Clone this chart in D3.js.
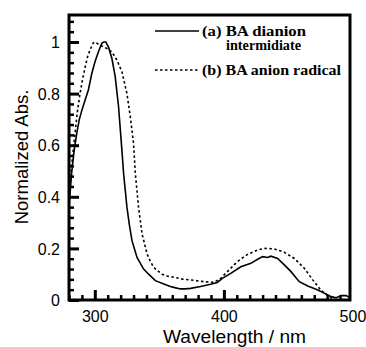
<!DOCTYPE html>
<html><head><meta charset="utf-8">
<script src="https://cdn.jsdelivr.net/npm/d3@7"></script>
<style>
html,body{margin:0;padding:0;background:#fff;}
svg{display:block;}
</style></head>
<body>
<script>
// Series (a) BA dianion intermidiate: [wavelength nm, normalized abs]
const seriesA = [[280,0.36],[282,0.49],[284,0.58],[286,0.646],[288,0.70],[290,0.736],[292.5,0.775],[295,0.814],[297.7,0.879],[300.2,0.924],[302.8,0.962],[305.4,0.995],[307,1.0],[308.5,1.0],[310.6,0.98],[313.2,0.937],[315.8,0.866],[318.4,0.749],[321,0.58],[322.3,0.49],[324.9,0.359],[326.8,0.29],[328.8,0.23],[332.7,0.165],[337.8,0.12],[341.7,0.10],[346.9,0.075],[353.4,0.062],[358.6,0.052],[361.2,0.049],[366.4,0.043],[370,0.043],[374.2,0.045],[381.9,0.052],[389.7,0.061],[394.9,0.068],[398.8,0.084],[405.3,0.103],[413.1,0.129],[420.9,0.142],[426.1,0.158],[430,0.168],[433.9,0.165],[436.4,0.17],[441.6,0.161],[446.8,0.136],[452,0.11],[458.4,0.071],[465,0.054],[472.8,0.039],[477.9,0.026],[483.1,0.013],[487,0.009],[490.9,0.017],[494.8,0.017],[497.7,0.009]];
// Series (b) BA anion radical
const seriesB = [[280,0.40],[282,0.52],[284.7,0.647],[286.5,0.73],[288.6,0.802],[290.5,0.855],[292.5,0.903],[294.5,0.945],[296.3,0.969],[298.7,0.996],[300,1.0],[304,0.988],[309.3,0.975],[313.2,0.962],[317.1,0.93],[321,0.885],[324.9,0.80],[327.5,0.71],[330,0.607],[331.4,0.49],[333.9,0.359],[336.6,0.256],[340.5,0.178],[343,0.15],[345.6,0.127],[348.2,0.115],[352.1,0.10],[356,0.093],[361.2,0.088],[367.7,0.081],[374.2,0.078],[384.5,0.071],[392.3,0.068],[397.5,0.084],[402.7,0.11],[410.5,0.149],[418.3,0.177],[426.1,0.194],[431.2,0.20],[439,0.198],[446.8,0.185],[454.6,0.161],[462.3,0.123],[468.8,0.078],[474,0.045],[477.9,0.026],[483,0.009],[486,0.003]];
const xMajorTicks = [300, 400, 500];
const yMajorTicks = [0, 0.2, 0.4, 0.6, 0.8, 1];
const yTickLabels = ["0", "0.2", "0.4", "0.6", "0.8", "1"];
const legendLabels = ["(a) BA dianion", "intermidiate", "(b) BA anion radical"];
const xTitle = "Wavelength / nm";
const yTitle = "Normalized Abs.";

const W = 366, H = 347;
const L = 69, R = 350, T = 15, B = 300;
const svg = d3.select("body").append("svg").attr("width", W).attr("height", H);

const x = d3.scaleLinear().domain([280, 497.7]).range([L, R]);
const y = d3.scaleLinear().domain([0, 1.1]).range([B, B - 1.1 * 258]);

const xMinor = d3.range(280, 498, 10).filter(v => !xMajorTicks.includes(v));
const yMinor = d3.range(0, 1.09, 0.04).map(v => +v.toFixed(2)).filter(v => !yMajorTicks.some(m => Math.abs(m - v) < 1e-6));

const font = "'Liberation Sans', Arial, sans-serif";

// minor ticks
svg.append("g").attr("transform", `translate(0,${B})`)
  .call(d3.axisBottom(x).tickValues(xMinor).tickSize(-5).tickFormat(""))
  .call(g => { g.select(".domain").remove(); g.selectAll("line").attr("stroke","#000").attr("stroke-width",2.5); });
svg.append("g").attr("transform", `translate(${L},0)`)
  .call(d3.axisLeft(y).tickValues(yMinor).tickSize(-5).tickFormat(""))
  .call(g => { g.select(".domain").remove(); g.selectAll("line").attr("stroke","#000").attr("stroke-width",2.5); });

// major ticks with labels
svg.append("g").attr("transform", `translate(0,${B})`)
  .call(d3.axisBottom(x).tickValues(xMajorTicks.filter(v => v <= 497.7)).tickSize(-10).tickPadding(0).tickFormat(d3.format("d")))
  .call(g => { g.select(".domain").remove(); g.selectAll("line").attr("stroke","#000").attr("stroke-width",3);
    g.selectAll("text").attr("y", 22).attr("dy", 0).attr("font-family", font).attr("font-size", 16).attr("fill","#000"); });
// 500 label sits just outside the frame
svg.append("text").attr("x", x(500)).attr("y", B + 22).attr("text-anchor","middle")
  .attr("font-family", font).attr("font-size", 16).text("500");

svg.append("g").attr("transform", `translate(${L},0)`)
  .call(d3.axisLeft(y).tickValues(yMajorTicks).tickSize(-10).tickFormat((d,i) => yTickLabels[i]))
  .call(g => { g.select(".domain").remove(); g.selectAll("line").attr("stroke","#000").attr("stroke-width",3);
    g.selectAll("text").attr("x", -9).attr("dy", "0.35em").attr("font-family", font).attr("font-size", 16).attr("fill","#000"); });

// frame
svg.append("rect").attr("x", L).attr("y", T).attr("width", R - L).attr("height", B - T)
  .attr("fill","none").attr("stroke","#000").attr("stroke-width",3);

// lines
const line = d3.line().x(d => x(d[0])).y(d => y(d[1]));
svg.append("path").datum(seriesB).attr("d", line).attr("fill","none")
  .attr("stroke","#000").attr("stroke-width",1.6).attr("stroke-dasharray","2.5,2.5");
svg.append("path").datum(seriesA).attr("d", line).attr("fill","none")
  .attr("stroke","#000").attr("stroke-width",1.6);

// legend
const lf = "'Liberation Serif', 'Times New Roman', serif";
svg.append("line").attr("x1",155).attr("x2",199).attr("y1",31).attr("y2",31).attr("stroke","#000").attr("stroke-width",1.6);
svg.append("line").attr("x1",155).attr("x2",199).attr("y1",70).attr("y2",70).attr("stroke","#000").attr("stroke-width",1.6).attr("stroke-dasharray","2.5,2.5");
const leg = [[202,35.5,104,14],[226,49.5,75,14],[202,75,139,14]];
leg.forEach((p,i) => {
  svg.append("text").attr("x",p[0]).attr("y",p[1]).attr("font-family",lf).attr("font-weight","bold")
    .attr("font-size",p[3]).attr("textLength",p[2]).attr("lengthAdjust","spacingAndGlyphs").text(legendLabels[i]);
});

// titles
svg.append("text").attr("x", 163).attr("y", 342.5)
  .attr("font-family", font).attr("font-size", 17.5).attr("textLength",143).attr("lengthAdjust","spacingAndGlyphs").text(xTitle);
svg.append("text").attr("transform", `translate(28,157) rotate(-90)`).attr("text-anchor","middle")
  .attr("font-family", font).attr("font-size", 18.5).text(yTitle);
</script>
</body></html>
